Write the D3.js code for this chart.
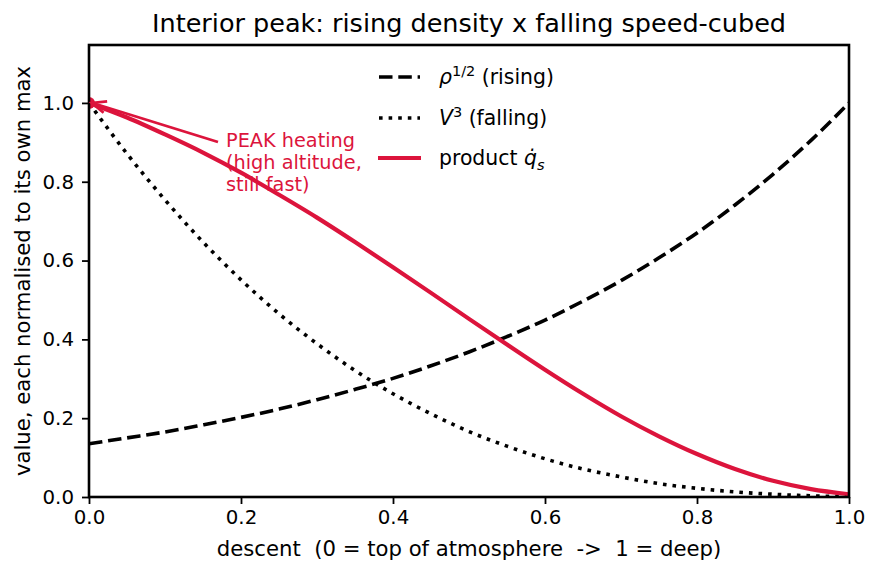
<!DOCTYPE html>
<html><head><meta charset="utf-8">
<script src="https://d3js.org/d3.v7.min.js"></script>
<style>body{margin:0;background:#fff}svg{display:block;font-family:"DejaVu Sans",sans-serif}text{white-space:pre}</style>
</head><body><svg id="c" width="879" height="573"></svg>
<script>
const xs = [0,0.05,0.1,0.15,0.2,0.25,0.3,0.35,0.4,0.45,0.5,0.55,0.6,0.65,0.7,0.75,0.8,0.85,0.9,0.95,1.0];
const rhoHalf = [0.135,0.150,0.165,0.183,0.202,0.223,0.247,0.273,0.301,0.333,0.368,0.407,0.449,0.497,0.549,0.607,0.670,0.741,0.819,0.905,1.0];
const vCubed = [1.0,0.871,0.754,0.647,0.551,0.465,0.389,0.321,0.262,0.211,0.166,0.129,0.097,0.071,0.051,0.034,0.022,0.013,0.007,0.003,0.001];
const product = [1.0,0.963,0.920,0.874,0.823,0.767,0.709,0.647,0.583,0.518,0.452,0.387,0.323,0.262,0.205,0.154,0.109,0.071,0.041,0.020,0.007];
const xTicks = [0,0.2,0.4,0.6,0.8,1.0];
const yTicks = [0,0.2,0.4,0.6,0.8,1.0];
const peak = {x:0, y:1.0};
const annotLines = ["PEAK heating","(high altitude,","still fast)"];
const RED = "#dc143c";

const svg = d3.select("#c");
const L=89,R=849,T=45,B=497;
const x = d3.scaleLinear().domain([0,1]).range([L,R]);
const y = d3.scaleLinear().domain([0,1.147]).range([B,T]);
const FT=19.8, FS=19.3, FG=20.4, FL=21.2;

svg.append("defs").append("clipPath").attr("id","pc").append("rect")
  .attr("x",L).attr("y",T).attr("width",R-L).attr("height",B-T);

const line = d3.line().x(d=>x(d[0])).y(d=>y(d[1])).curve(d3.curveMonotoneX);
const g = svg.append("g").attr("clip-path","url(#pc)");
g.append("path").datum(xs.map((v,i)=>[v,rhoHalf[i]])).attr("d",line)
  .attr("fill","none").attr("stroke","#000").attr("stroke-width",3.6).attr("stroke-dasharray","13.5,5.8");
g.append("path").datum(xs.map((v,i)=>[v,vCubed[i]])).attr("d",line)
  .attr("fill","none").attr("stroke","#000").attr("stroke-width",3.6).attr("stroke-dasharray","3.6,6");
g.append("path").datum(xs.map((v,i)=>[v,product[i]])).attr("d",line)
  .attr("fill","none").attr("stroke",RED).attr("stroke-width",4.2);
g.append("circle").attr("cx",x(peak.x)).attr("cy",y(peak.y)).attr("r",6).attr("fill",RED);

// axes
const xa = svg.append("g").attr("transform",`translate(0,${B})`)
  .call(d3.axisBottom(x).tickValues(xTicks).tickFormat(d3.format(".1f")).tickSize(7).tickPadding(6));
const ya = svg.append("g").attr("transform",`translate(${L},0)`)
  .call(d3.axisLeft(y).tickValues(yTicks).tickFormat(d3.format(".1f")).tickSize(7).tickPadding(8));
[xa,ya].forEach(a=>{a.select(".domain").remove();
  a.selectAll("text").attr("font-size",FT).attr("fill","#000").attr("font-family","DejaVu Sans");
  a.selectAll("line").attr("stroke","#000").attr("stroke-width",1.8);});
svg.append("rect").attr("x",L).attr("y",T).attr("width",R-L).attr("height",B-T)
  .attr("fill","none").attr("stroke","#000").attr("stroke-width",2.6);

// annotation arrow
const ax0=218, ay0=142, ax1=x(peak.x)+3, ay1=y(peak.y);
svg.append("line").attr("x1",ax0).attr("y1",ay0).attr("x2",ax1+2).attr("y2",ay1+0.6)
  .attr("stroke",RED).attr("stroke-width",2.8);
const ang=Math.atan2(ay0-ay1,ax0-ax1);
const hl=14, hw=6;
const p1=[ax1+hl*Math.cos(ang)-hw*Math.sin(ang), ay1+hl*Math.sin(ang)+hw*Math.cos(ang)];
const p2=[ax1+hl*Math.cos(ang)+hw*Math.sin(ang), ay1+hl*Math.sin(ang)-hw*Math.cos(ang)];
svg.append("path").attr("d",`M${p1}L${ax1},${ay1}L${p2}`).attr("fill","none").attr("stroke",RED).attr("stroke-width",2.8);
svg.append("g").selectAll("text").data(annotLines).join("text")
  .attr("x",226).attr("y",(d,i)=>147+i*22).attr("font-size",FS).attr("fill",RED).text(d=>d);

// title and labels
svg.append("text").attr("x",(L+R)/2).attr("y",32).attr("text-anchor","middle").attr("font-size",25.5).text("Interior peak: rising density x falling speed-cubed");
svg.append("text").attr("x",(L+R)/2).attr("y",556).attr("text-anchor","middle").attr("font-size",FL).text("descent  (0 = top of atmosphere  ->  1 = deep)");
svg.append("text").attr("transform",`translate(30,${(T+B)/2}) rotate(-90)`).attr("text-anchor","middle").attr("font-size",FL).text("value, each normalised to its own max");

// legend
const lg = svg.append("g");
const rows=[77,118,158];
lg.append("line").attr("x1",379).attr("x2",420).attr("y1",rows[0]).attr("y2",rows[0]).attr("stroke","#000").attr("stroke-width",3.6).attr("stroke-dasharray","13.5,5.8");
lg.append("line").attr("x1",379).attr("x2",420).attr("y1",rows[1]).attr("y2",rows[1]).attr("stroke","#000").attr("stroke-width",3.6).attr("stroke-dasharray","3.6,6");
lg.append("line").attr("x1",378).attr("x2",421).attr("y1",rows[2]).attr("y2",rows[2]).attr("stroke",RED).attr("stroke-width",4.2);
const sub=14.5;
const t1=lg.append("text").attr("x",439).attr("y",rows[0]+7).attr("font-size",FG);
t1.append("tspan").attr("font-style","italic").text("ρ");
t1.append("tspan").attr("font-size",sub).attr("dy",-8).text("1/2");
t1.append("tspan").attr("dy",8).text(" (rising)");
const t2=lg.append("text").attr("x",439).attr("y",rows[1]+7).attr("font-size",FG);
t2.append("tspan").attr("font-style","italic").text("V");
t2.append("tspan").attr("font-size",sub).attr("dy",-8).text("3");
t2.append("tspan").attr("dy",8).text(" (falling)");
const t3=lg.append("text").attr("x",439).attr("y",rows[2]+7).attr("font-size",FG);
t3.append("tspan").text("product ");
t3.append("tspan").attr("font-style","italic").text("q̇");
t3.append("tspan").attr("font-size",sub).attr("font-style","italic").attr("dy",5).text("s");
</script></body></html>
